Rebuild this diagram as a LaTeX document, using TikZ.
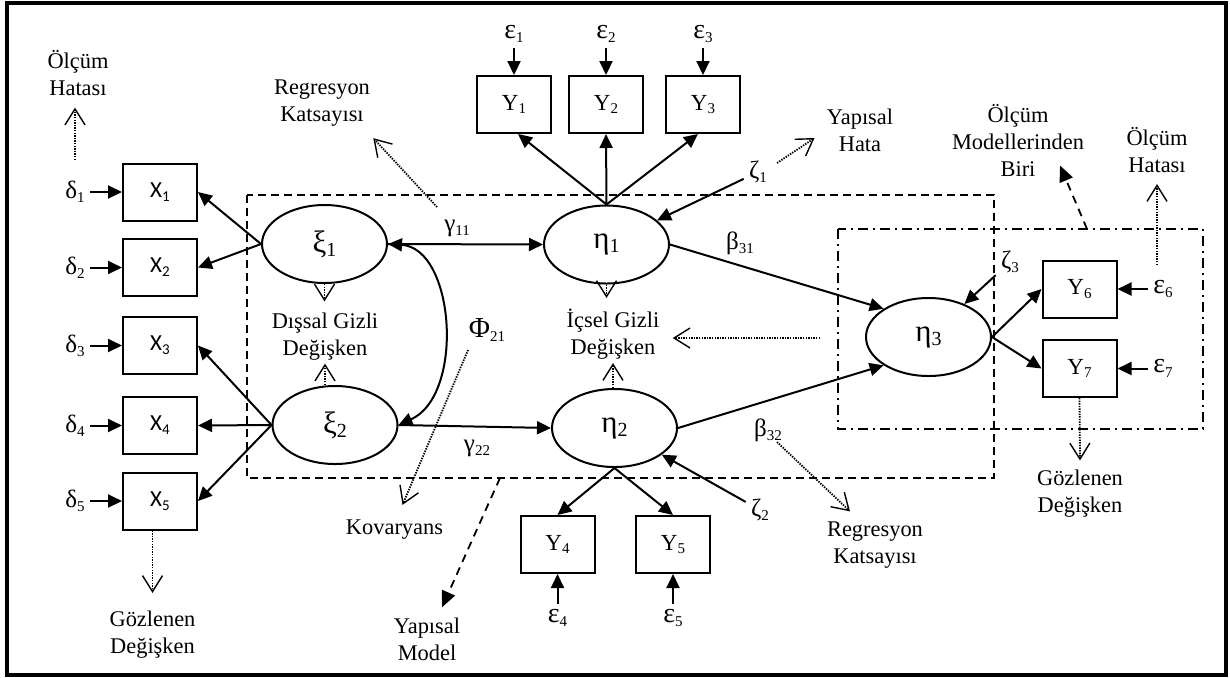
\documentclass[tikz,border=0pt]{standalone}
\usepackage{fontspec}
\setmainfont{Liberation Serif}
\newfontfamily\calfont{Carlito}
\usetikzlibrary{arrows.meta,shapes.geometric,calc}
\newcommand\sbx[1]{\raisebox{-0.35ex}{\fontsize{7.5}{8}\selectfont #1}}
\newcommand\sbl[1]{\raisebox{-0.3ex}{\fontsize{10}{11}\selectfont #1}}
\begin{document}
\begin{tikzpicture}[x=0.5pt,y=-0.5pt,
 box/.style={draw,line width=1pt,minimum width=37pt,minimum height=28.5pt,inner sep=0pt,font=\fontsize{11.5}{13}\selectfont},
 lat/.style={draw,ellipse,line width=1pt,minimum width=62.5pt,minimum height=39pt,inner sep=0pt,fill=white,font=\fontsize{15.5}{17}\selectfont},
 ann/.style={align=center,inner sep=1.5pt,font=\fontsize{11.2}{13.5}\selectfont},
 grk/.style={inner sep=2.5pt,font=\fontsize{12.5}{14}\selectfont},
 eps/.style={inner sep=2.5pt,font=\fontsize{14}{16}\selectfont},
 arr/.style={line width=1pt,-{Triangle[length=7pt,width=6.5pt]}},
 biarr/.style={line width=1pt,{Triangle[length=7pt,width=6.5pt]}-{Triangle[length=7pt,width=6.5pt]}},
 dotarr/.style={line width=0.9pt,dash pattern=on 0.7pt off 0.6pt,-{Straight Barb[length=8pt,width=10pt,line width=0.7pt]}},
 dasharr/.style={line width=0.9pt,dash pattern=on 4pt off 3pt,-{Triangle[length=8pt,width=7pt]}},
 smrect/.style={line width=0.8pt,dash pattern=on 4pt off 2.5pt},
 mmrect/.style={line width=0.8pt,dash pattern=on 5pt off 2.5pt on 1pt off 2.5pt},
 ]
\useasboundingbox (0,0) rectangle (1230,677);
\draw[line width=2pt] (7,2.5) rectangle (1226,675);

% model frames
\draw[smrect] (247,195) rectangle (994,478);
\draw[mmrect] (838,229) rectangle (1203,429);

% observed X
\node[box] (X1) at (160,192) {\calfont X\sbx{1}};
\node[box] (X2) at (160,267.5) {\calfont X\sbx{2}};
\node[box] (X3) at (160,345.5) {\calfont X\sbx{3}};
\node[box] (X4) at (160,425.5) {\calfont X\sbx{4}};
\node[box] (X5) at (160,501) {\calfont X\sbx{5}};
\foreach \i/\y in {1/192,2/267.5,3/345.5,4/425.5,5/501}{
  \node[grk] (d\i) at (75,\y) {δ\sbx{\i}};
  \draw[arr] (d\i) -- (X\i);
}

% observed Y
\node[box] (Y1) at (514,104.5) {Y\sbx{1}};
\node[box] (Y2) at (606,104.5) {Y\sbx{2}};
\node[box] (Y3) at (703,104.5) {Y\sbx{3}};
\node[box] (Y4) at (557.5,544.5) {Y\sbx{4}};
\node[box] (Y5) at (673,544.5) {Y\sbx{5}};
\node[box] (Y6) at (1079.5,289) {Y\sbx{6}};
\node[box] (Y7) at (1079.5,368.5) {Y\sbx{7}};

\node[eps] (e1) at (514,34) {ε\sbx{1}};
\node[eps] (e2) at (606,34) {ε\sbx{2}};
\node[eps] (e3) at (703,34) {ε\sbx{3}};
\node[eps] (e4) at (557.5,618) {ε\sbx{4}};
\node[eps] (e5) at (673,618) {ε\sbx{5}};
\node[eps] (e6) at (1163,289) {ε\sbx{6}};
\node[eps] (e7) at (1163,368.5) {ε\sbx{7}};
\foreach \i in {1,...,7}{\draw[arr] (e\i) -- (Y\i);}

% latent variables
\node[lat] (xi1) at (324.5,244) {ξ\sbl{1}};
\node[lat] (xi2) at (335,425) {ξ\sbl{2}};
\node[lat] (eta1) at (606.5,244.5) {η\sbl{1}};
\node[lat] (eta2) at (614.5,428) {η\sbl{2}};
\node[lat] (eta3) at (928.5,337) {η\sbl{3}};

% loadings
\draw[arr] (xi1.west) -- (X1.east);
\draw[arr] (xi1.west) -- (X2.east);
\draw[arr] (xi2.west) -- (X3.east);
\draw[arr] (xi2.west) -- (X4.east);
\draw[arr] (xi2.west) -- (X5.east);
\draw[arr] (eta1.north) -- ([xshift=2pt]Y1.south);
\draw[arr] (eta1.north) -- (Y2.south);
\draw[arr] (eta1.north) -- ([xshift=-2.5pt]Y3.south);
\draw[arr] (eta2.south) -- (Y4.north);
\draw[arr] (eta2.south) -- (Y5.north);
\draw[arr] (eta3.east) -- (Y6.west);
\draw[arr] (eta3.east) -- (Y7.west);

% structural paths
\draw[arr] (xi1.east) -- (eta1.west);
\draw[arr] (xi2.east) -- (eta2.west);
\draw[biarr] (xi1.east) .. controls (455,248) and (465,395) .. (xi2.east);
\draw[arr] (eta1.east) -- (eta3.north west);
\draw[arr] (eta2.east) -- (eta3.south west);

% disturbances
\node[grk] (z1) at (758,172) {ζ\sbx{1}};
\node[grk] (z2) at (760,510) {ζ\sbx{2}};
\node[grk] (z3) at (1010,262) {ζ\sbx{3}};
\draw[arr] (z1) -- (eta1);
\draw[arr] (z2) -- (eta2);
\draw[arr] (z3) -- (eta3);

% coefficient labels
\node[grk] (g11) at (457,228) {γ\sbx{11}};
\node[grk] (g22) at (477,448) {γ\sbx{22}};
\node[grk,font=\fontsize{14.5}{16}\selectfont] (phi) at (487,330) {Φ\sbx{21}};
\node[grk] (b31) at (740,243) {β\sbx{31}};
\node[grk] (b32) at (768,430) {β\sbx{32}};

% annotations
\node[ann] (OH1) at (78,73.5) {Ölçüm\\Hatası};
\node[ann] (RK1) at (322,103.5) {Regresyon\\Katsayısı};
\node[ann] (YH) at (860,130.5) {Yapısal\\Hata};
\node[ann] (OMB) at (1018,140) {Ölçüm\\Modellerinden\\Biri};
\node[ann] (OH2) at (1157,150) {Ölçüm\\Hatası};
\node[ann] (DGD) at (325,336.5) {Dışsal Gizli\\Değişken};
\node[ann] (IGD) at (613,334.5) {İçsel Gizli\\Değişken};
\node[ann] (KOV) at (394.5,530) {Kovaryans};
\node[ann] (GD1) at (152.5,635) {Gözlenen\\Değişken};
\node[ann] (YM) at (427,639) {Yapısal\\Model};
\node[ann] (RK2) at (875,545) {Regresyon\\Katsayısı};
\node[ann] (GD2) at (1080,493.5) {Gözlenen\\Değişken};

\coordinate (oh1s) at (75,160);
\coordinate (rk1s) at (437,207);
\coordinate (yhs) at (777,163);
\coordinate (oh2s) at (1157,265);
\coordinate (ombs) at (1087,229);
\coordinate (igds) at (820,338);
\coordinate (phis) at (468,350);
\coordinate (rk2s) at (777,442);
\coordinate (yms) at (500,478);

\draw[dotarr] (oh1s) -- ($(oh1s |- OH1.south)+(0,8)$);
\draw[dotarr] (rk1s) -- ($(RK1.south east)+(0,8)$);
\draw[dotarr] (yhs) -- ($(YH.west)+(-9,7.5)$);
\draw[dotarr] (oh2s) -- ($(oh2s |- OH2.south)+(0,8)$);
\draw[dasharr] (ombs) -- ($(OMB.south)+(42,-14)$);
\draw[dotarr] (xi1.south) -- ($(xi1.south |- DGD.north)+(0,-8)$);
\draw[dotarr] (DGD |- xi2.north) -- (DGD.south);
\draw[dotarr] (eta1.south) -- ($(eta1.south |- IGD.north)+(0,-8)$);
\draw[dotarr] (IGD |- eta2.north) -- (IGD.south);
\draw[dotarr] (igds) -- ($(igds -| IGD.east)+(10,0)$);
\draw[dotarr] (phis) -- ($(KOV.north)+(8,-12)$);
\draw[dotarr] (rk2s) -- ($(RK2.north)+(-25,-7)$);
\draw[dotarr] (Y7.south) -- ($(GD2.north)+(0,-6)$);
\draw[dotarr] (GD1 |- X5.south) -- ($(GD1.north)+(0,-15)$);
\draw[dasharr] (yms) -- ($(YM.north)+(15,-7)$);
\end{tikzpicture}
\end{document}
